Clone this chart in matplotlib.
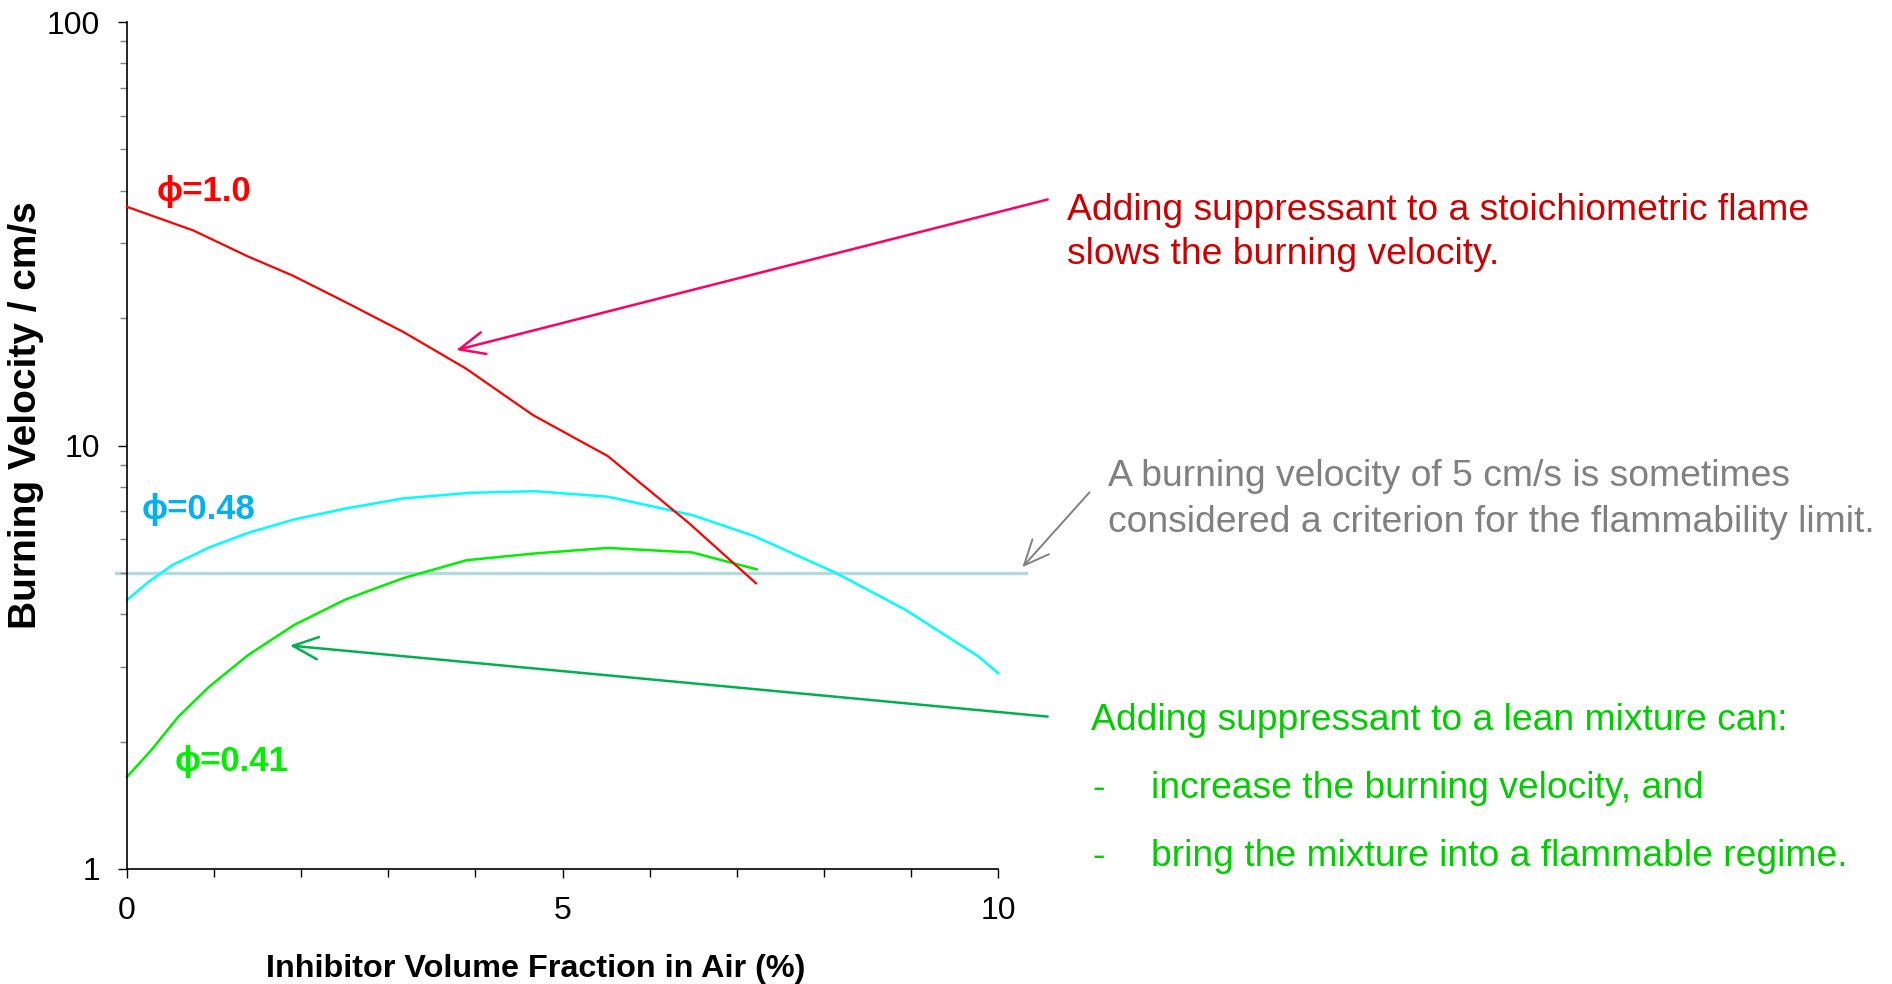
import matplotlib
matplotlib.use("Agg")
import matplotlib.pyplot as plt

W, H = 1892, 984
plt.rcParams['font.family'] = ['Liberation Sans', 'DejaVu Sans']

# inhibitor volume fraction (%) and burning velocity (cm/s)
x_phi10 = [0.0, 0.76, 1.38, 1.9, 2.51, 3.18, 3.89, 4.66, 5.52, 6.45, 7.22]
v_phi10 = [36.6, 32.2, 28.0, 25.2, 21.8, 18.5, 15.2, 11.8, 9.44, 6.56, 4.73]

x_phi048 = [0.0, 0.25, 0.52, 0.94, 1.39, 1.92, 2.51, 3.17, 3.93, 4.68, 5.52, 6.49, 7.2, 8.14, 8.94, 9.78, 10.0]
v_phi048 = [4.32, 4.77, 5.22, 5.74, 6.22, 6.69, 7.10, 7.50, 7.73, 7.80, 7.57, 6.85, 6.11, 5.0, 4.09, 3.17, 2.9]

x_phi041 = [0.0, 0.28, 0.59, 0.94, 1.39, 1.92, 2.51, 3.17, 3.9, 4.68, 5.52, 6.49, 7.23]
v_phi041 = [1.65, 1.91, 2.29, 2.69, 3.20, 3.77, 4.33, 4.86, 5.36, 5.56, 5.73, 5.59, 5.10]

criterion = 5.0
criterion_x = [-0.13, 10.32]

xticks_major = [0, 5, 10]
yticks_major = [1, 10, 100]


def fxy(x, y):
    return x / W, 1 - y / H


fig = plt.figure(figsize=(W / 100, H / 100), dpi=100)
ax = fig.add_axes([127 / W, 1 - 869 / H, 871 / W, 847 / H])

ax.plot(criterion_x, [criterion, criterion], color='#b4dadd', lw=2.4, clip_on=False, zorder=1)
ax.plot(x_phi10, v_phi10, color='#ff0000', lw=1.6, clip_on=False, zorder=3)
ax.plot(x_phi048, v_phi048, color='#00ffff', lw=1.8, clip_on=False, zorder=2)
ax.plot(x_phi041, v_phi041, color='#00ee00', lw=1.8, clip_on=False, zorder=2)

ax.set_yscale('log')
ax.set_xlim(0, 10)
ax.set_ylim(1, 100)
ax.set_xticks(xticks_major)
ax.set_xticks(range(0, 11), minor=True)
ax.set_yticks(yticks_major)
ax.set_yticklabels([str(v) for v in yticks_major])
ax.set_xticklabels([str(v) for v in xticks_major])
ax.yaxis.set_minor_formatter(matplotlib.ticker.NullFormatter())

for s in ['top', 'right']:
    ax.spines[s].set_visible(False)
for s in ['left', 'bottom']:
    ax.spines[s].set_linewidth(1.2)

ax.tick_params(axis='both', which='major', labelsize=23, length=6.5, width=1, pad=13, colors='black')
ax.tick_params(axis='x', which='minor', length=6, width=1, color='black')
ax.tick_params(axis='y', which='minor', length=5, width=1, color='#808080')

ax.set_ylabel('Burning Velocity / cm/s', fontsize=28, fontweight='bold', va='center')
ax.yaxis.set_label_coords((26.5 - 127) / 871, (869 - 415) / 847)
ax.set_xlabel('Inhibitor Volume Fraction in Air (%)', fontsize=23.3, fontweight='bold', va='center')
ax.xaxis.set_label_coords((535.7 - 127) / 871, (869 - 969) / 847)

# series labels
fig.text(*fxy(157, 192), 'ϕ=1.0', color='#ff0000', fontsize=25, fontweight='bold', va='center')
fig.text(*fxy(142, 510), 'ϕ=0.48', color='#00b0f0', fontsize=25, fontweight='bold', va='center')
fig.text(*fxy(175, 762), 'ϕ=0.41', color='#00ee00', fontsize=25, fontweight='bold', va='center')

# arrows
ax.annotate('', xy=(3.78, 16.8), xytext=(10.57, 38.1),
            arrowprops=dict(arrowstyle='->,head_length=0.9,head_width=0.4', color='#ff0066', lw=1.8,
                            mutation_scale=20, shrinkA=0, shrinkB=0),
            annotation_clip=False)
ax.annotate('', xy=(1.87, 3.37), xytext=(10.57, 2.29),
            arrowprops=dict(arrowstyle='->,head_length=0.9,head_width=0.4', color='#00b050', lw=1.8,
                            mutation_scale=20, shrinkA=0, shrinkB=0),
            annotation_clip=False)
ax.annotate('', xy=(10.28, 5.16), xytext=(11.05, 7.75),
            arrowprops=dict(arrowstyle='->,head_length=0.9,head_width=0.4', color='#808080', lw=1.4,
                            mutation_scale=20, shrinkA=0, shrinkB=0),
            annotation_clip=False)

# notes
fs = 26.8
fig.text(*fxy(1066.6, 210), 'Adding suppressant to a stoichiometric flame', color='#cc0000', fontsize=fs, va='center')
fig.text(*fxy(1066.6, 255), 'slows the burning velocity.', color='#cc0000', fontsize=fs, va='center')
fig.text(*fxy(1107.7, 477), 'A burning velocity of 5 cm/s is sometimes', color='#808080', fontsize=fs, va='center')
fig.text(*fxy(1107.7, 523), 'considered a criterion for the flammability limit.', color='#808080', fontsize=fs, va='center')
fig.text(*fxy(1090.8, 721), 'Adding suppressant to a lean mixture can:', color='#00cc00', fontsize=fs, va='center')
fig.text(*fxy(1092, 789), '-', color='#00cc00', fontsize=fs, va='center')
fig.text(*fxy(1151, 789), 'increase the burning velocity, and', color='#00cc00', fontsize=fs, va='center')
fig.text(*fxy(1092, 856), '-', color='#00cc00', fontsize=fs, va='center')
fig.text(*fxy(1151, 856), 'bring the mixture into a flammable regime.', color='#00cc00', fontsize=fs, va='center')

fig.savefig('out.png', dpi=100)
